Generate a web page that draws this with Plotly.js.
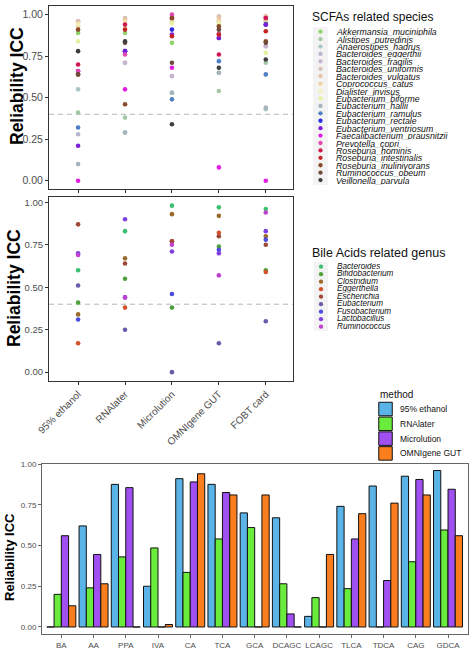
<!DOCTYPE html>
<html><head><meta charset="utf-8">
<script src="https://cdn.plot.ly/plotly-3.0.1.min.js"></script>
<style>html,body{margin:0;padding:0;background:#fff}#chart{width:474px;height:662px}</style>
</head><body><div id="chart"></div>
<script>
// ---------- DATA ----------
const methods = ['95% ethanol','RNAlater','Microlution','OMNIgene GUT','FOBT card'];

const scfaSpecies = ['Akkermansia_muciniphila','Alistipes_putredinis','Anaerostipes_hadrus','Bacteroides_eggerthii',
 'Bacteroides_fragilis','Bacteroides_uniformis','Bacteroides_vulgatus','Coprococcus_catus','Dialister_invisus',
 'Eubacterium_biforme','Eubacterium_hallii','Eubacterium_ramulus','Eubacterium_rectale','Eubacterium_ventriosum',
 'Faecalibacterium_prausnitzii','Prevotella_copri','Roseburia_hominis','Roseburia_intestinalis',
 'Roseburia_inulinivorans','Ruminococcus_obeum','Veillonella_parvula'];
const scfaColors = ['#8fd46a','#a3c8a3','#a9c6c4','#b6b6cc','#c8b4d2','#d6bfb4','#e8c4a4','#f2d2a2','#f4eeb8',
 '#e4f2a2','#a6b4bc','#4f7fc4','#2a2ae0','#7c1ed8','#e01ee0','#e24ab4','#d01852','#c42424','#8a4a2a','#6e4c3a','#3e3e3e'];
// one value per species, in species order
const scfaEthanol     = [0.89,0.41,0.55,0.28,0.96,0.96,0.93,0.95,0.94,0.84,0.10,0.32,0.66,0.21,0.00,0.66,0.70,0.64,0.91,0.64,0.78];
const scfaRNAlater    = [0.89,0.38,0.29,0.71,0.71,0.98,0.97,0.96,0.95,0.92,0.29,0.78,0.78,0.78,0.55,0.76,0.94,0.91,0.46,0.83,0.84];
const scfaMicrolution = [0.83,0.53,0.53,0.63,0.63,0.96,0.97,0.95,0.95,0.95,0.53,0.49,0.91,0.88,0.68,1.00,0.98,0.87,0.98,0.71,0.34];
const scfaOMNIgene    = [0.96,0.54,0.65,0.89,0.91,0.99,0.98,0.96,0.95,0.94,0.65,0.72,0.86,0.86,0.08,0.88,0.76,0.88,0.93,0.91,0.68];
const scfaFOBT        = [0.96,0.71,0.43,0.81,0.81,0.99,0.99,0.97,0.77,0.77,0.44,0.64,0.94,0.94,0.00,0.98,0.98,0.90,0.84,0.83,0.73];

const bileGenus = ['Bacteroides','Bifidobacterium','Clostridium','Eggerthella','Escherichia','Eubacterium',
 'Fusobacterium','Lactobacillus','Ruminococcus'];
const bileColors = ['#3cc070','#4ea03a','#9a6a2a','#d4502a','#a04838','#6a5aa8','#4c4ce0','#8040e0','#c040d0'];
const bileEthanol     = [0.60,0.41,0.34,0.17,0.87,0.51,0.31,0.70,0.69];
const bileRNAlater    = [0.83,0.55,0.67,0.38,0.64,0.25,0.44,0.90,0.44];
const bileMicrolution = [0.98,0.38,0.93,0.77,0.77,0.00,0.46,0.71,0.75];
const bileOMNIgene    = [0.97,0.74,0.92,0.82,0.80,0.17,0.72,0.70,0.57];
const bileFOBT        = [0.96,0.60,0.80,0.59,0.75,0.30,0.78,0.83,0.94];

const acids = ['BA','AA','PPA','IVA','CA','TCA','GCA','DCAGC','LCAGC','TLCA','TDCA','CAG','GDCA'];
const barMethods = ['95% ethanol','RNAlater','Microlution','OMNIgene GUT'];
const barColors = ['#5ab4e8','#6aec3c','#a04ff0','#fa7e1e'];
const iccEthanol     = [0.00,0.62,0.875,0.25,0.91,0.875,0.70,0.67,0.065,0.74,0.865,0.925,0.96];
const iccRNAlater    = [0.20,0.24,0.43,0.485,0.335,0.54,0.61,0.265,0.18,0.235,0.00,0.40,0.595];
const iccMicrolution = [0.56,0.445,0.855,0.00,0.89,0.825,0.00,0.08,0.00,0.54,0.285,0.905,0.845];
const iccOMNIgene    = [0.13,0.265,0.00,0.015,0.94,0.81,0.81,0.00,0.445,0.695,0.76,0.81,0.56];

// ---------- BUILD ----------
const FONT = 'Liberation Sans, Arial, sans-serif';
const traces = [];
const scfaByMethod = [scfaEthanol, scfaRNAlater, scfaMicrolution, scfaOMNIgene, scfaFOBT];
scfaSpecies.forEach((s, i) => {
  traces.push({type:'scatter', mode:'markers', x: methods, y: scfaByMethod.map(a => a[i]),
    xaxis:'x', yaxis:'y', name:s, showlegend:false, cliponaxis:false,
    marker:{size:4.6, color:scfaColors[i]}});
});
const bileByMethod = [bileEthanol, bileRNAlater, bileMicrolution, bileOMNIgene, bileFOBT];
bileGenus.forEach((g, i) => {
  traces.push({type:'scatter', mode:'markers', x: methods, y: bileByMethod.map(a => a[i]),
    xaxis:'x2', yaxis:'y2', name:g, showlegend:false, cliponaxis:false,
    marker:{size:4.6, color:bileColors[i]}});
});
const iccByMethod = [iccEthanol, iccRNAlater, iccMicrolution, iccOMNIgene];
barMethods.forEach((m, i) => {
  traces.push({type:'bar', x: acids, y: iccByMethod[i], xaxis:'x3', yaxis:'y3', name:m, showlegend:false,
    marker:{color:barColors[i], line:{color:'#111', width:1}}});
});

// legends drawn on an overlay axis in pixel units
const annotations = [];
const shapes = [];
function legendDots(names, colors, x0, y0, step, tx, fsize){
  traces.push({type:'scatter', mode:'markers', xaxis:'x4', yaxis:'y4', showlegend:false, hoverinfo:'skip',
    x: names.map(() => x0), y: names.map((n, i) => y0 + i*step),
    marker:{size:4.3, color:colors}});
  names.forEach((n, i) => annotations.push({xref:'x4', yref:'y4', x:tx, y:y0 + i*step, text:n,
    showarrow:false, xanchor:'left', yanchor:'middle', height:step, valign:'middle',
    font:{family:FONT, size:fsize, color:'#111', style:'italic'}}));
}
shapes.push({type:'rect', xref:'x4', yref:'y4', x0:313, x1:328, y0:27, y1:185, fillcolor:'#f3f3f3', line:{width:0}, layer:'below'});
shapes.push({type:'rect', xref:'x4', yref:'y4', x0:314, x1:328, y0:262, y1:331, fillcolor:'#f3f3f3', line:{width:0}, layer:'below'});
legendDots(scfaSpecies, scfaColors, 320.5, 31.7, 7.42, 334, 8.8);
legendDots(bileGenus, bileColors, 321, 266.7, 7.5, 335, 8.2);
annotations.push({xref:'x4', yref:'y4', x:310, y:17, text:'SCFAs related species', showarrow:false,
  xanchor:'left', yanchor:'middle', font:{family:FONT, size:12, color:'#111'}});
annotations.push({xref:'x4', yref:'y4', x:310, y:253, text:'Bile Acids related genus', showarrow:false,
  xanchor:'left', yanchor:'middle', font:{family:FONT, size:12.5, color:'#111'}});
// method legend
traces.push({type:'scatter', mode:'markers', xaxis:'x4', yaxis:'y4', showlegend:false, hoverinfo:'skip',
  x: barMethods.map(() => 385.5), y: barMethods.map((m, i) => 409 + i*14.8),
  marker:{symbol:'square', size:13.5, color:barColors, line:{color:'#111', width:1}}});
barMethods.forEach((m, i) => annotations.push({xref:'x4', yref:'y4', x:398, y:409 + i*14.8, text:m,
  showarrow:false, xanchor:'left', yanchor:'middle', font:{family:FONT, size:8.5, color:'#111'}}));
annotations.push({xref:'x4', yref:'y4', x:378, y:394, text:'method', showarrow:false,
  xanchor:'left', yanchor:'middle', font:{family:FONT, size:10, color:'#111'}});

// y-axis titles
[[17, 86, 17.5],[14, 288, 17.5],[9, 557, 13]].forEach(([x, y, s]) => annotations.push({xref:'x4', yref:'y4', x:x, y:y,
  text:'<b>Reliability ICC</b>', textangle:-90, showarrow:false, xanchor:'center', yanchor:'middle',
  font:{family:FONT, size:s, color:'#000'}}));

// threshold lines
shapes.push({type:'line', xref:'x domain', yref:'y', x0:0, x1:1, y0:0.4, y1:0.4, line:{color:'#b5b5b5', width:1, dash:'5px,4px'}, layer:'below'});
shapes.push({type:'line', xref:'x2 domain', yref:'y2', x0:0, x1:1, y0:0.4, y1:0.4, line:{color:'#b5b5b5', width:1, dash:'5px,4px'}, layer:'below'});

const W = 474, H = 662;
const px = (a, b) => [a/W, b/W];
const py = (top, bot) => [1 - bot/H, 1 - top/H];
const frame = {showline:true, mirror:true, linecolor:'#333', linewidth:1, showgrid:false, zeroline:false,
  ticks:'outside', ticklen:3, tickcolor:'#333'};
const ticksY = {tickvals:[0,0.25,0.5,0.75,1], ticktext:['0.00','0.25','0.50','0.75','1.00']};

const layout = {
  width:W, height:H, margin:{l:0, r:0, t:0, b:0}, paper_bgcolor:'#fff', plot_bgcolor:'rgba(0,0,0,0)',
  showlegend:false, bargap:0.1, bargroupgap:0, barmode:'group',
  font:{family:FONT},
  xaxis: Object.assign({}, frame, {domain:px(49, 293), anchor:'y', type:'category', range:[-0.62, 4.58], showticklabels:false}),
  yaxis: Object.assign({}, frame, ticksY, {domain:py(6, 189), anchor:'x', range:[-0.05, 1.052],
    tickfont:{family:FONT, size:10.5, color:'#4d4d4d'}}),
  xaxis2: Object.assign({}, frame, {domain:px(49, 293), anchor:'y2', type:'category', range:[-0.62, 4.58],
    tickangle:-45, tickfont:{family:FONT, size:10, color:'#4d4d4d'}}),
  yaxis2: Object.assign({}, frame, ticksY, {domain:py(197, 380.5), anchor:'x2', range:[-0.049, 1.031],
    tickfont:{family:FONT, size:9.5, color:'#4d4d4d'}}),
  xaxis3: Object.assign({}, frame, {domain:px(42, 468), anchor:'y3', type:'category', range:[-0.6, 12.62],
    linecolor:'#666', tickcolor:'#666', tickfont:{family:FONT, size:8, color:'#4d4d4d'}}),
  yaxis3: Object.assign({}, frame, ticksY, {domain:py(464, 634.3), anchor:'x3', range:[-0.045, 1.0],
    linecolor:'#666', tickcolor:'#666', tickfont:{family:FONT, size:8, color:'#4d4d4d'}}),
  xaxis4: {domain:[0,1], range:[0, W], visible:false, fixedrange:true, anchor:'y4'},
  yaxis4: {domain:[0,1], range:[H, 0], visible:false, fixedrange:true, anchor:'x4'},
  annotations: annotations, shapes: shapes
};
Plotly.newPlot('chart', traces, layout, {staticPlot:true, displayModeBar:false});
</script></body></html>
